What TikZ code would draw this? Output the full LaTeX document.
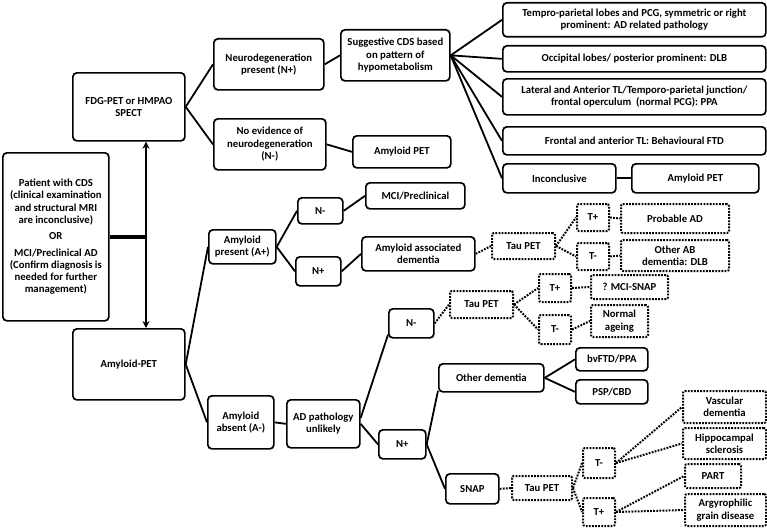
\documentclass[tikz,border=0pt]{standalone}
\usepackage{fontspec}
\setmainfont{Carlito}
\usetikzlibrary{arrows.meta}
\begin{document}
\begin{tikzpicture}[x=1pt,y=-1pt,
  box/.style={draw, line width=1.7pt, rounded corners=4pt, align=center, inner sep=1pt, anchor=north west,
    font=\fontsize{10.7}{12.3}\selectfont\bfseries},
  dbox/.style={box, dash pattern=on 1.8pt off 1.3pt, line width=2pt, rounded corners=2pt},
  con/.style={line width=1.8pt},
  dcon/.style={line width=2pt, dash pattern=on 1.8pt off 1.3pt},
  sz/.style 2 args={minimum width=#1pt, minimum height=#2pt}]
\useasboundingbox (0,0) rectangle (767,527);
% left column
\node[box,sz={106}{168}] (P) at (2,152) {Patient with CDS\\(clinical examination\\and structural MRI\\are inconclusive)\\[4pt]OR\\[4pt]MCI/Preclinical AD\\(Confirm diagnosis is\\needed for further\\management)};
\node[box,sz={112}{68}] (FDG) at (72,72) {FDG-PET or HMPAO\\SPECT};
\node[box,sz={112}{71}] (AP) at (72,328) {Amyloid-PET};
\coordinate (ax) at (146,0);
\draw[con, {Stealth[length=7pt,width=7pt]}-{Stealth[length=7pt,width=7pt]}] (FDG.south -| ax) -- (AP.north -| ax);
\draw[line width=3.5pt] (P.east) -- (P.east -| ax);
% FDG branch
\node[box,sz={110}{51}] (NP) at (213,38) {Neurodegeneration\\present (N+)};
\node[box,sz={112}{51}] (NE) at (213,118) {No evidence of\\neurodegeneration\\(N-)};
\node[box,sz={109}{51}] (SG) at (340,29) {Suggestive CDS based\\on pattern of\\hypometabolism};
\node[box,sz={98}{32}] (AM1) at (352,135) {Amyloid PET};
\node[box,sz={263}{34}] (R1) at (502,2) {Tempro-parietal lobes and PCG, symmetric or right\\prominent: AD related pathology};
\node[box,sz={263}{26}] (R2) at (502,45) {Occipital lobes/ posterior prominent: DLB};
\node[box,sz={263}{36}] (R3) at (502,78) {Lateral and Anterior TL/Temporo-parietal junction/\\frontal operculum \ (normal PCG): PPA};
\node[box,sz={263}{28}] (R4) at (502,126) {Frontal and anterior TL: Behavioural FTD};
\node[box,sz={113}{29}] (R5) at (502,163) {Inconclusive};
\node[box,sz={127}{29}] (AM2) at (631,163) {Amyloid PET};
\draw[con] (FDG.east) -- (NP.west);
\draw[con] (FDG.east) -- (NE.west);
\draw[con] (NP.east) -- (SG.west);
\draw[con] (NE.east) -- (AM1.west);
\foreach \r in {R1,R2,R3,R4,R5} \draw[con] (SG.east) -- (\r.west);
\draw[con] (R5.east) -- (AM2.west);
% amyloid present
\node[box,sz={67}{34}] (APres) at (208,229) {Amyloid\\present (A+)};
\node[box,sz={45}{26}] (NmA) at (297,197) {N-};
\node[box,sz={45}{29}] (NpA) at (295,256) {N+};
\node[box,sz={99}{26}] (MCI) at (365,182) {MCI/Preclinical};
\node[box,sz={113}{34}] (AAD) at (361,236) {Amyloid associated\\dementia};
\node[dbox,sz={63}{26}] (TP1) at (491,232) {Tau PET};
\node[dbox,sz={32}{27}] (T1p) at (576,203) {T+};
\node[dbox,sz={32}{27}] (T1m) at (576,242) {T-};
\node[dbox,sz={108}{29}] (PAD) at (620,203) {Probable AD};
\node[dbox,sz={108}{31}] (OAB) at (620,239) {Other AB\\dementia: DLB};
\draw[con] (AP.east) -- (APres.west);
\draw[con] (APres.east) -- (NmA.west);
\draw[con] (APres.east) -- (NpA.west);
\draw[con] (NmA.east) -- (MCI.west);
\draw[con] (NpA.east) -- (AAD.west);
\draw[dcon] (AAD.east) -- (TP1.west);
\draw[dcon] (TP1.east) -- (T1p.west);
\draw[dcon] (TP1.east) -- (T1m.west);
\draw[dcon] (T1p.east) -- (PAD.west);
\draw[dcon] (T1m.east) -- (OAB.west);
% amyloid absent
\node[box,sz={66}{53}] (AAbs) at (207,395) {Amyloid\\absent (A-)};
\node[box,sz={73}{48}] (ADU) at (286,399) {AD pathology\\unlikely};
\node[box,sz={45}{29}] (Nm2) at (388,308) {N-};
\node[box,sz={47}{29}] (Np2) at (378,429) {N+};
\node[dbox,sz={63}{27}] (TP2) at (449,290) {Tau PET};
\node[dbox,sz={32}{28}] (T2p) at (538,273) {T+};
\node[dbox,sz={32}{29}] (T2m) at (538,314) {T-};
\node[dbox,sz={77}{24}] (MS) at (590,274) {? MCI-SNAP};
\node[dbox,sz={57}{32}] (NA) at (590,304) {Normal\\ageing};
\node[box,sz={105}{28}] (OD) at (438,363) {Other dementia};
\node[box,sz={53}{30}] (SNAP) at (445,473) {SNAP};
\node[box,sz={72}{23}] (BV) at (575,347) {bvFTD/PPA};
\node[box,sz={72}{24}] (PSP) at (575,379) {PSP/CBD};
\node[dbox,sz={60}{24}] (TP3) at (511,475) {Tau PET};
\node[dbox,sz={32}{30}] (T3m) at (582,447) {T-};
\node[dbox,sz={32}{28}] (T3p) at (582,497) {T+};
\node[dbox,sz={83}{32}] (VD) at (682,390) {Vascular\\dementia};
\node[dbox,sz={83}{31}] (HS) at (682,427) {Hippocampal\\sclerosis};
\node[dbox,sz={56}{24}] (PART) at (684,463) {PART};
\node[dbox,sz={81}{32}] (AG) at (684,493) {Argyrophilic\\grain disease};
\draw[con] (AP.east) -- (AAbs.west);
\draw[con] (AAbs.east) -- (ADU.west);
\draw[con] ([yshift=6pt]ADU.east) -- ([yshift=4pt]Nm2.south west);
\draw[con] (ADU.east) -- (Np2.west);
\draw[dcon] (Nm2.east) -- (TP2.west);
\draw[dcon] (TP2.east) -- (T2p.west);
\draw[dcon] (TP2.east) -- (T2m.west);
\draw[dcon] (T2p.east) -- (MS.west);
\draw[dcon] (T2m.east) -- (NA.west);
\draw[con] (Np2.east) -- ([yshift=2pt]OD.south west);
\draw[con] (Np2.east) -- (SNAP.west);
\draw[con] (OD.east) -- (BV.west);
\draw[con] (OD.east) -- (PSP.west);
\draw[dcon] (SNAP.east) -- (TP3.west);
\draw[dcon] (TP3.east) -- (T3m.west);
\draw[dcon] (TP3.east) -- (T3p.west);
\draw[dcon] (T3m.east) -- (VD.west);
\draw[dcon] (T3m.east) -- (HS.west);
\draw[dcon] (T3p.east) -- (PART.west);
\draw[dcon] (T3p.east) -- (AG.west);
\end{tikzpicture}
\end{document}
